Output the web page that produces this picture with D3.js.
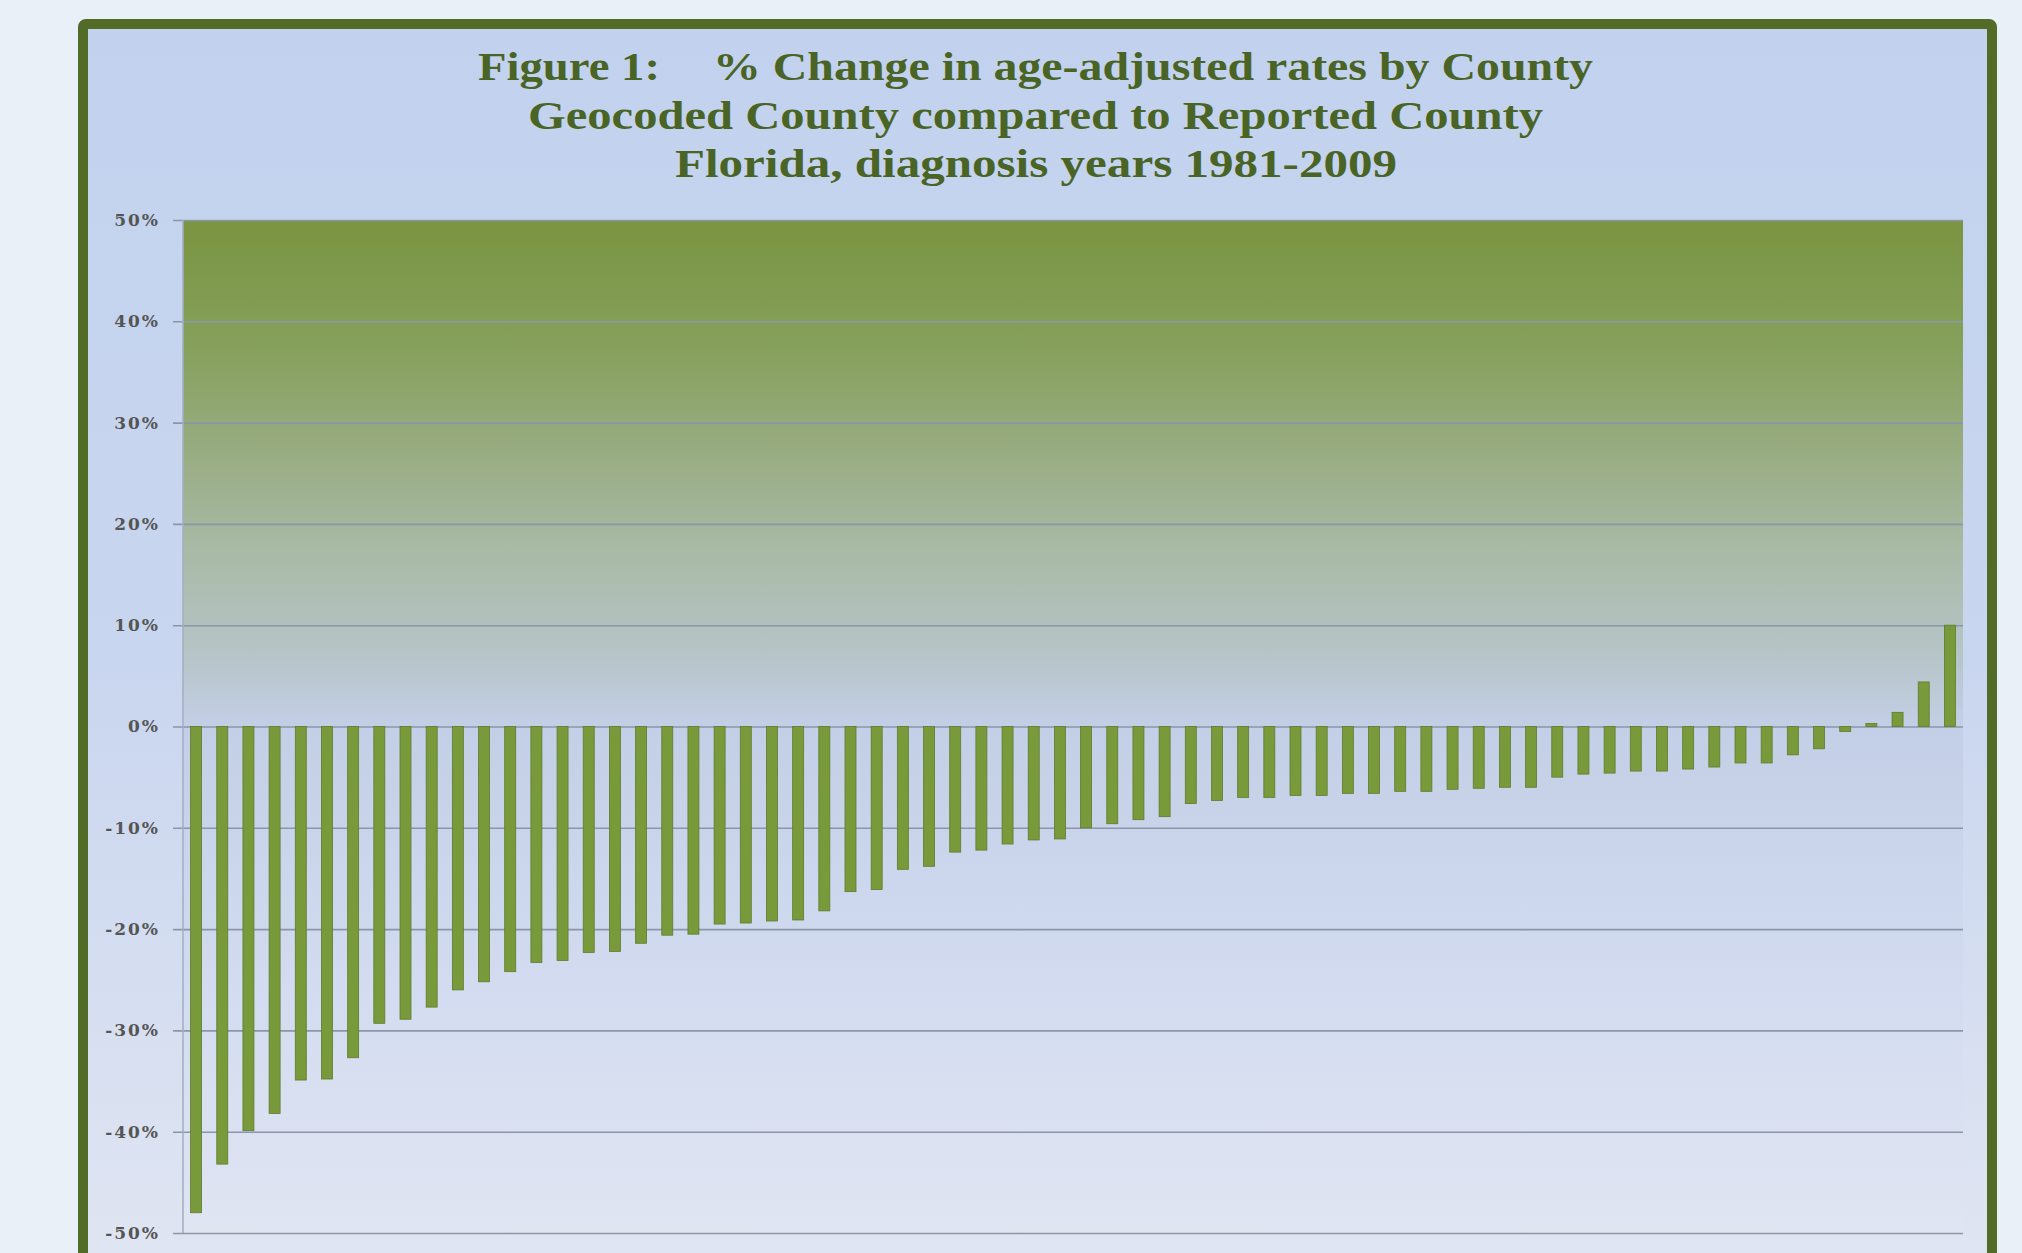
<!DOCTYPE html>
<html>
<head>
<meta charset="utf-8">
<script src="https://cdn.jsdelivr.net/npm/d3@7"></script>
<style>
  html, body { margin: 0; padding: 0; background: #e9f0f7; }
  svg { display: block; }
</style>
</head>
<body>
<svg id="chart" width="2022" height="1253"></svg>
<script>
// ---- data ----
const titleLines = [
  "Figure 1:",
  "% Change in age-adjusted rates by County",
  "Geocoded County compared to Reported County",
  "Florida, diagnosis years 1981-2009"
];
const yTicks = [-50, -40, -30, -20, -10, 0, 10, 20, 30, 40, 50];
// % change by county, sorted (68 bars)
const pctChange = [
  -48.0, -43.2, -39.9, -38.2, -34.9, -34.8, -32.7, -29.3, -28.9, -27.7,
  -26.0, -25.2, -24.2, -23.3, -23.1, -22.3, -22.2, -21.4, -20.6, -20.5,
  -19.5, -19.4, -19.2, -19.1, -18.2, -16.3, -16.1, -14.1, -13.8, -12.4,
  -12.2, -11.6, -11.2, -11.1, -10.0, -9.6, -9.2, -8.9, -7.6, -7.3,
  -7.0, -7.0, -6.8, -6.8, -6.6, -6.6, -6.4, -6.4, -6.2, -6.1,
  -6.0, -6.0, -5.0, -4.7, -4.6, -4.4, -4.4, -4.2, -4.0, -3.6,
  -3.6, -2.8, -2.2, -0.5, 0.3, 1.4, 4.4, 10.0
];
const countyRank = pctChange.map((_, i) => i + 1);

// ---- layout ----
const svg = d3.select("#chart");
const W = 2022, H = 1253;
const plot = { left: 183, right: 1963, top: 220, bottom: 1233 };

const defs = svg.append("defs");
const panelGrad = defs.append("linearGradient").attr("id", "panelGrad")
  .attr("x1", 0).attr("y1", 0).attr("x2", 0).attr("y2", 1);
panelGrad.append("stop").attr("offset", "0%").attr("stop-color", "#c2d2ee");
panelGrad.append("stop").attr("offset", "50%").attr("stop-color", "#c9d6ef");
panelGrad.append("stop").attr("offset", "100%").attr("stop-color", "#e1e6f2");

const plotGrad = defs.append("linearGradient").attr("id", "plotGrad")
  .attr("x1", 0).attr("y1", 0).attr("x2", 0).attr("y2", 1);
[["0%", "#7a9441"], ["12%", "#85a05a"], ["22%", "#97ab7f"], ["32%", "#a8b9a4"],
 ["42%", "#b5c3c4"], ["50%", "#c3cfe6"], ["75%", "#d2dbf0"], ["100%", "#e0e5f2"]]
  .forEach(([o, c]) => plotGrad.append("stop").attr("offset", o).attr("stop-color", c));

// background
svg.append("rect").attr("width", W).attr("height", H).attr("fill", "#e9f0f7");

// framed panel
svg.append("rect")
  .attr("x", 83).attr("y", 24).attr("width", 1909).attr("height", 1280)
  .attr("rx", 3)
  .attr("fill", "url(#panelGrad)")
  .attr("stroke", "#526b26").attr("stroke-width", 10);

// plot area
svg.append("rect")
  .attr("x", plot.left).attr("y", plot.top)
  .attr("width", plot.right - plot.left).attr("height", plot.bottom - plot.top)
  .attr("fill", "url(#plotGrad)");

// scales
const x = d3.scaleBand().domain(countyRank)
  .range([plot.left, plot.right]).paddingInner(0.58).paddingOuter(0.29);
const y = d3.scaleLinear().domain([-50, 50]).range([plot.bottom, plot.top]);

// grid + ticks + labels via axis placed at right edge
const axisG = svg.append("g").attr("transform", `translate(${plot.right},0)`)
  .call(d3.axisLeft(y).tickValues(yTicks)
    .tickSize(plot.right - plot.left + 10).tickPadding(13)
    .tickFormat(d => d + "%"));
axisG.select(".domain").remove();
axisG.selectAll(".tick line").attr("stroke", "#8c96a8").attr("stroke-width", 1.6);
axisG.selectAll(".tick text")
  .attr("fill", "#555555")
  .style("font-family", "'DejaVu Serif', serif")
  .style("font-weight", "bold")
  .style("font-size", "17px")
  .style("letter-spacing", "2px");

// vertical axis line
svg.append("line")
  .attr("x1", plot.left).attr("x2", plot.left)
  .attr("y1", y(50)).attr("y2", y(-50))
  .attr("stroke", "#a3aec2").attr("stroke-width", 1.5);

// bars
svg.append("g").selectAll("rect").data(pctChange).join("rect")
  .attr("x", (d, i) => x(countyRank[i]))
  .attr("width", x.bandwidth())
  .attr("y", d => y(Math.max(0, d)))
  .attr("height", d => Math.abs(y(d) - y(0)))
  .attr("fill", "#789a3a")
  .attr("stroke", "#5f7b2d").attr("stroke-width", 0.8);

// title
const tStyle = sel => sel
  .attr("fill", "#4a6425")
  .style("font-family", "'Liberation Serif', 'Times New Roman', serif")
  .style("font-weight", "bold")
  .style("font-size", "41px")
  .attr("lengthAdjust", "spacingAndGlyphs");

svg.append("text").text(titleLines[0]).attr("x", 478).attr("y", 80)
  .attr("textLength", 182).call(tStyle);
svg.append("text").text(titleLines[1]).attr("x", 713).attr("y", 80)
  .attr("textLength", 880).call(tStyle);
svg.append("text").text(titleLines[2]).attr("x", 528).attr("y", 129)
  .attr("textLength", 1015).call(tStyle);
svg.append("text").text(titleLines[3]).attr("x", 675).attr("y", 177)
  .attr("textLength", 722).call(tStyle);
</script>
</body>
</html>
